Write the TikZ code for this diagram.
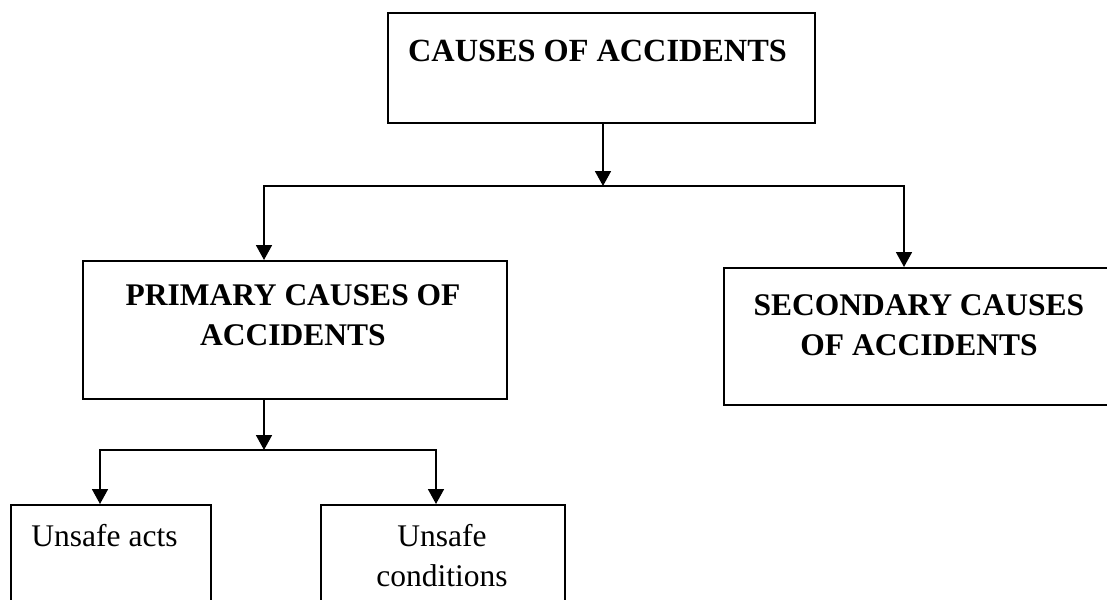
\documentclass[tikz,border=0pt]{standalone}
\usepackage{fontspec}
\setmainfont{Liberation Serif}
\usetikzlibrary{arrows.meta,calc}
\begin{document}
\begin{tikzpicture}[x=1pt,y=-1pt,
  box/.style={draw, line width=1.7pt, rectangle, inner sep=0pt, anchor=north west},
  txt/.style={font=\fontsize{31.5}{40}\selectfont, align=center, inner sep=0pt, anchor=north},
  htxt/.style={txt, font=\fontsize{31.5}{40}\selectfont\bfseries},
  arr/.style={line width=1.7pt, -{Triangle[width=16pt,length=15pt]}},
  ln/.style={line width=1.7pt}]
\fill[white] (0,0) rectangle (1107,599);
\useasboundingbox (0,0) rectangle (1107,599);
\clip (0,0) rectangle (1107,599);

% boxes
\node[box, minimum width=427pt, minimum height=110pt] (top) at (387,12) {};
\node[box, minimum width=424pt, minimum height=138pt] (prim) at (82,260) {};
\node[box, minimum width=392pt, minimum height=137pt] (sec) at (723,267) {};
\node[box, minimum width=200pt, minimum height=120pt] (acts) at (10,504) {};
\node[box, minimum width=244pt, minimum height=120pt] (cond) at (320,504) {};

% texts
\node[htxt, font=\fontsize{32.3}{40}\selectfont\bfseries] (t0) at (597.5,39.5) {CAUSES OF ACCIDENTS};
\node[htxt] (t1) at (293,284.5) {PRIMARY CAUSES OF\\ACCIDENTS};
\node[htxt] (t2) at (919,294.5) {SECONDARY CAUSES\\OF ACCIDENTS};
\node[txt] (t3) at (104.5,524) {Unsafe acts};
\node[txt] (t4) at (442,524) {Unsafe\\conditions};

% connectors
\coordinate (j1) at (603,186);
\coordinate (pa) at (264,186);
\coordinate (sa) at (904,186);
\draw[arr] (top.south -| j1) -- (j1);
\draw[arr] (j1) -- (pa) -- (pa |- prim.north);
\draw[arr] (j1) -- (sa) -- (sa |- sec.north);

\coordinate (j2) at (264,450);
\coordinate (ua) at (100,450);
\coordinate (ca) at (436,450);
\draw[arr] (prim.south -| j2) -- (j2);
\draw[arr] (j2) -- (ua) -- (ua |- acts.north);
\draw[arr] (j2) -- (ca) -- (ca |- cond.north);
\end{tikzpicture}
\end{document}
